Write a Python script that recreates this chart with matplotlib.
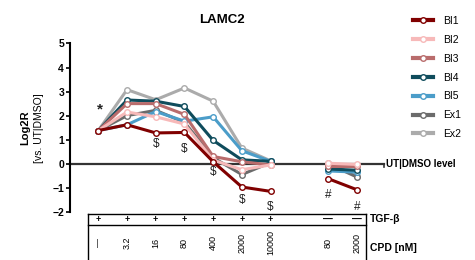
import numpy as np
import matplotlib
matplotlib.use("Agg")
import matplotlib.pyplot as plt

plt.rcParams['font.family'] = ['Liberation Sans', 'DejaVu Sans']

# x positions (index 7 left empty as a gap between the two groups)
x_pos = [0, 1, 2, 3, 4, 5, 6, 8, 9]
tgf_labels = ['+', '+', '+', '+', '+', '+', '+', '—', '—']
cpd_labels = ['—', '3.2', '16', '80', '400', '2000', '10000', '80', '2000']

series_names = ['BI1', 'BI2', 'BI3', 'BI4', 'BI5', 'Ex1', 'Ex2']
bi1 = [1.38, 1.62, 1.28, 1.30, 0.08, -0.97, -1.15, -0.62, -1.08]
bi2 = [1.38, 2.15, 1.95, 1.65, 0.15, -0.25, -0.05, 0.02, -0.03]
bi3 = [1.38, 2.50, 2.50, 2.05, 0.30, 0.08, -0.05, -0.10, -0.10]
bi4 = [1.38, 2.65, 2.60, 2.38, 0.97, 0.16, 0.10, -0.22, -0.27]
bi5 = [1.38, 1.62, 2.17, 1.77, 1.95, 0.54, 0.10, -0.30, -0.35]
ex1 = [1.38, 2.00, 2.22, 1.72, 0.25, -0.45, 0.05, 0.00, -0.55]
ex2 = [1.38, 3.08, 2.66, 3.15, 2.60, 0.65, 0.12, 0.05, -0.52]
colors = ['#800000', '#f7b9b9', '#b96c6c', '#0f4c5c', '#4b9dc9', '#6b6b6b', '#ababab']

# significance marks: (x index, y, symbol)
marks = [(0.05, 2.25, '*'), (2, 0.82, '$'), (3, 0.61, '$'), (4, -0.36, '$'),
         (5, -1.5, '$'), (6, -1.8, '$'), (8, -1.32, '#'), (9, -1.78, '#')]

fig = plt.figure(figsize=(4.75, 2.6), dpi=100)
ax = fig.add_axes([0.1465, 0.1854, 0.665, 0.6473])

all_series = [bi1, bi2, bi3, bi4, bi5, ex1, ex2]
handles = []
for i, (name, vals, c) in enumerate(zip(series_names, all_series, colors)):
    xs = np.array(x_pos)
    vals = np.array(vals)
    # split into the two groups so the gap is not joined
    for sel in [xs <= 6, xs >= 8]:
        ax.plot(xs[sel], vals[sel], color=c, lw=2.2, marker='o', ms=4,
                mfc='white', mec=c, mew=1.0, zorder=20 - i, clip_on=False)
    h, = ax.plot([], [], color=c, lw=3, marker='o', ms=4, mfc='white',
                 mec=c, mew=1.0, label=name)
    handles.append(h)

ax.set_xlim(-1, 10)
ax.set_ylim(-2, 5)
ax.set_yticks(range(-2, 6))
ax.set_xticks([])
for s in ['top', 'right', 'bottom']:
    ax.spines[s].set_visible(False)
ax.spines['left'].set_bounds(-2, 5)
ax.spines['left'].set_linewidth(1.5)
ax.tick_params(axis='y', direction='out', length=3, width=1.2, labelsize=7.5, pad=1)
for lab in ax.get_yticklabels():
    lab.set_fontweight('bold')

# zero (UT|DMSO) reference line
ax.plot([-1, 9.95], [0, 0], color='#333333', lw=1.6, zorder=1, clip_on=False)
ax.plot([9.95, 9.95], [0, -0.12], color='#333333', lw=1.2, clip_on=False)
ax.text(10.02, 0, 'UT|DMSO level', fontsize=7, fontweight='bold', va='center',
        ha='left', clip_on=False)

for mx, my, sym in marks:
    fs = 11 if sym == '*' else 8.5
    ax.text(mx, my, sym, fontsize=fs, ha='center', va='center', color='#222222',
            fontweight='bold' if sym == '*' else 'normal')

# y label, two lines with different weight
fig.text(25 / 475, 1 - 128 / 260, 'Log2R', fontsize=8, fontweight='bold',
         rotation=90, ha='center', va='center')
fig.text(39 / 475, 1 - 128 / 260, '[vs. UT|DMSO]', fontsize=7.5,
         rotation=90, ha='center', va='center')

fig.text(222 / 475, 1 - 20 / 260, 'LAMC2', fontsize=9.5, fontweight='bold',
         ha='center', va='center')

# treatment table under the plot
tl, tr = -0.35, 9.32
top, mid, bot = -2.10, -2.55, -4.3
kw = dict(color='black', lw=1.0, clip_on=False)
ax.plot([tl, tr], [top, top], **kw)
ax.plot([tl, tr], [mid, mid], **kw)
ax.plot([tl, tl], [top, bot], **kw)
ax.plot([tr, tr], [top, bot], **kw)
for xp, t, c in zip(x_pos, tgf_labels, cpd_labels):
    ax.text(xp, -2.32, t, fontsize=6.5 if t == '+' else 7, ha='center',
            va='center', fontweight='bold', clip_on=False)
    ax.text(xp, -3.28, c, fontsize=6.5, rotation=90, ha='center', va='center',
            clip_on=False)
ax.text(9.46, -2.32, 'TGF-β', fontsize=7.5, fontweight='bold', ha='left',
        va='center', clip_on=False)
ax.text(9.46, -3.5, 'CPD [nM]', fontsize=7.5, fontweight='bold', ha='left',
        va='center', clip_on=False)

fig.legend(handles=handles, loc='upper left', bbox_to_anchor=(413 / 475, 1 - 16 / 260),
           frameon=False, fontsize=7.5, handlelength=1.9, handletextpad=1.0,
           labelspacing=0.85, borderaxespad=0, borderpad=0)

fig.savefig('out.png', dpi=100)
